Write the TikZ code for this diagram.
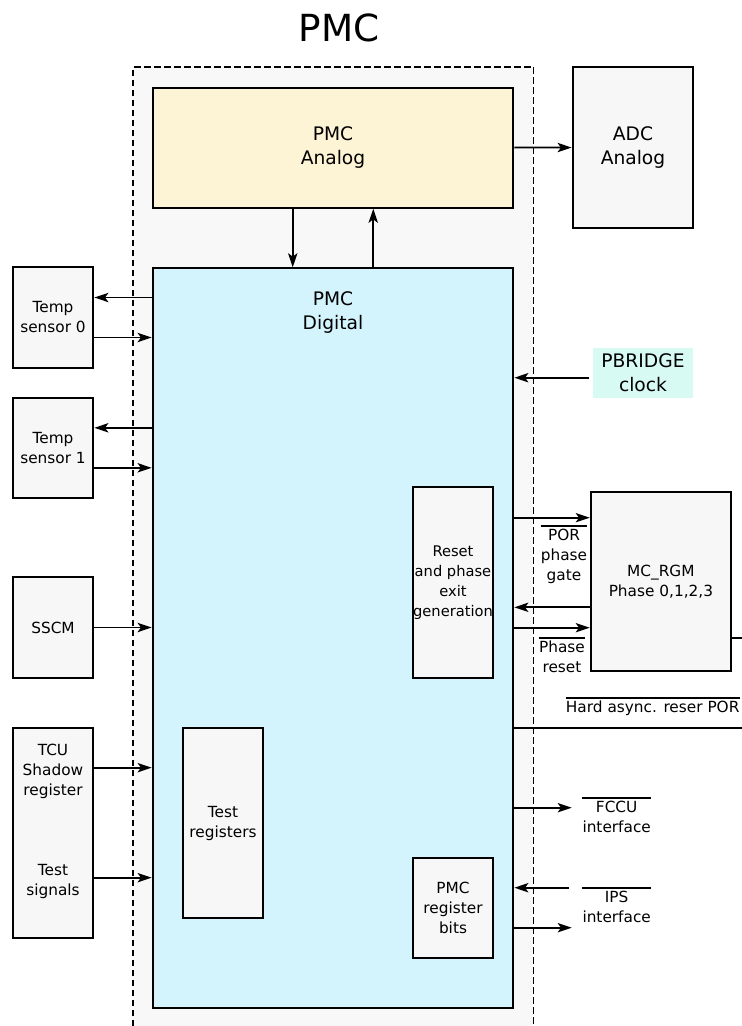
\documentclass[tikz,border=0pt]{standalone}
\usepackage{fontspec}
\setmainfont{DejaVu Sans}
\usetikzlibrary{arrows.meta}

\definecolor{pmcgray}{HTML}{F8F8F8}
\definecolor{boxgray}{HTML}{F7F7F7}
\definecolor{analogcol}{HTML}{FDF3D5}
\definecolor{digitalcol}{HTML}{D4F4FD}
\definecolor{bridgecol}{HTML}{D7FBF2}

\begin{document}
\begin{tikzpicture}[
  x=0.75pt, y=-0.75pt,
  font=\fontsize{11.5}{15}\selectfont,
  >={Stealth[length=10.5pt,width=7pt,inset=2.5pt]},
  box/.style={draw, line width=1.6pt, fill=boxgray, align=center, inner sep=1pt},
  bigbox/.style={box, font=\fontsize{14}{18}\selectfont},
  flow/.style={->, line width=1.3pt},
  wire/.style={line width=1.3pt},
  bar/.style={align=center, inner xsep=0pt, inner ysep=2.5pt, anchor=north},
  frame/.style={line width=1.2pt, dash pattern=on 5pt off 2.5pt}
]
\useasboundingbox (0,0) rectangle (742,1026);
\node[font=\fontsize{28}{34}\selectfont] (title) at (339,28) {PMC};

% PMC block
\node[fill=pmcgray, minimum width=300pt, minimum height=719pt] (pmc) at (333.3,546.65) {};
\draw[frame] (pmc.south west) |- (pmc.north east) -- (pmc.south east);

\node[bigbox, fill=analogcol, minimum width=270.5pt, minimum height=90pt] (analog) at (333,147.7) {PMC\\Analog};
\node[bigbox, minimum width=90.5pt, minimum height=120.3pt] (adc) at (633,147.5) {ADC\\Analog};
\node[bigbox, fill=digitalcol, minimum width=270.5pt, minimum height=554.5pt,
  label={[font=\fontsize{14}{18}\selectfont, align=center, below=15pt]north:{PMC\\Digital}}] (digital) at (333,638) {};
\node[fill=bridgecol, minimum width=74.5pt, minimum height=37pt, align=center,
  font=\fontsize{14}{18}\selectfont] (pbridge) at (643,373) {PBRIDGE\\clock};

% side blocks
\node[box, minimum width=60.5pt, minimum height=75.3pt] (temp0) at (53,317.5) {Temp\\sensor 0};
\node[box, minimum width=60.5pt, minimum height=75.3pt] (temp1) at (53,447.8) {Temp\\sensor 1};
\node[box, minimum width=60.5pt, minimum height=75.3pt] (sscm) at (53,627.5) {SSCM};
\node[box, minimum width=60.5pt, minimum height=158pt] (tcu) at (53,833) {};
\node[align=center] (tcushadow) at ([yshift=-33.75pt]tcu.north) {TCU\\Shadow\\register};
\node[align=center] (tcutest) at ([yshift=-116.25pt]tcu.north) {Test\\signals};
\node[box, minimum width=60.5pt, minimum height=143pt] (testreg) at (223,823) {Test\\registers};
\node[box, minimum width=60.5pt, minimum height=142.8pt, inner xsep=0pt,
  font=\fontsize{11}{15}\selectfont] (reset) at (453,582.5) {Reset\\and phase\\exit\\generation};
\node[box, minimum width=60.5pt, minimum height=75pt] (regbits) at (453,907.7) {PMC\\register\\bits};
\node[box, minimum width=105.2pt, minimum height=134.7pt] (mcrgm) at (660.9,581.5) {MC\_RGM\\Phase 0,1,2,3};

% signal labels
\node[bar] (porlbl) at (564,525.7) {POR\\phase\\gate};
\node[bar] (phaselbl) at (562,637.7) {Phase\\reset};
\node[bar] (hardlbl) at (652.7,697.7) {Hard async. reser POR};
\node[bar] (fcculbl) at (616.7,797.7) {FCCU\\interface};
\node[bar] (ipslbl) at (616.7,887.7) {IPS\\interface};
\foreach \l in {porlbl,phaselbl,hardlbl,fcculbl,ipslbl}
  \draw[wire] (\l.north west) -- (\l.north east);

\coordinate (hardend) at (742,727.7);
\coordinate (rgmend) at (742,637.7);
\coordinate (fccuend) at (571.7,807.7);
\coordinate (ipsin) at (569,887.7);
\coordinate (ipsout) at (571.7,927.7);
\coordinate (bridgeout) at (589.3,377.7);

\draw[flow] (analog) -- (adc);
\draw[flow] ([xshift=-30.2pt]analog.south) -- ([xshift=-30.2pt]analog.south |- digital.north);
\draw[flow] ([xshift=30.2pt]analog.south |- digital.north) -- ([xshift=30.2pt]analog.south);

\draw[flow] ([yshift=15pt]temp0.east -| digital.west) -- ([yshift=15pt]temp0.east);
\draw[flow] ([yshift=-15pt]temp0.east) -- ([yshift=-15pt]temp0.east -| digital.west);
\draw[flow] ([yshift=15pt]temp1.east -| digital.west) -- ([yshift=15pt]temp1.east);
\draw[flow] ([yshift=-15pt]temp1.east) -- ([yshift=-15pt]temp1.east -| digital.west);
\draw[flow] (sscm.east) -- (sscm.east -| digital.west);
\draw[flow] ([yshift=49pt]tcu.east) -- ([yshift=49pt]tcu.east -| digital.west);
\draw[flow] ([yshift=-33.5pt]tcu.east) -- ([yshift=-33.5pt]tcu.east -| digital.west);

\draw[flow] (bridgeout) -- (bridgeout -| digital.east);
\draw[flow] ([yshift=47.85pt]mcrgm.west -| digital.east) -- ([yshift=47.85pt]mcrgm.west);
\draw[flow] ([yshift=-19.35pt]mcrgm.west) -- ([yshift=-19.35pt]mcrgm.west -| digital.east);
\draw[flow] ([yshift=-34.65pt]mcrgm.west -| digital.east) -- ([yshift=-34.65pt]mcrgm.west);
\draw[wire] (rgmend -| mcrgm.east) -- (rgmend);
\draw[wire] (hardend -| digital.east) -- (hardend);
\draw[flow] (fccuend -| digital.east) -- (fccuend);
\draw[flow] (ipsin) -- (ipsin -| digital.east);
\draw[flow] (ipsout -| digital.east) -- (ipsout);
\end{tikzpicture}
\end{document}
